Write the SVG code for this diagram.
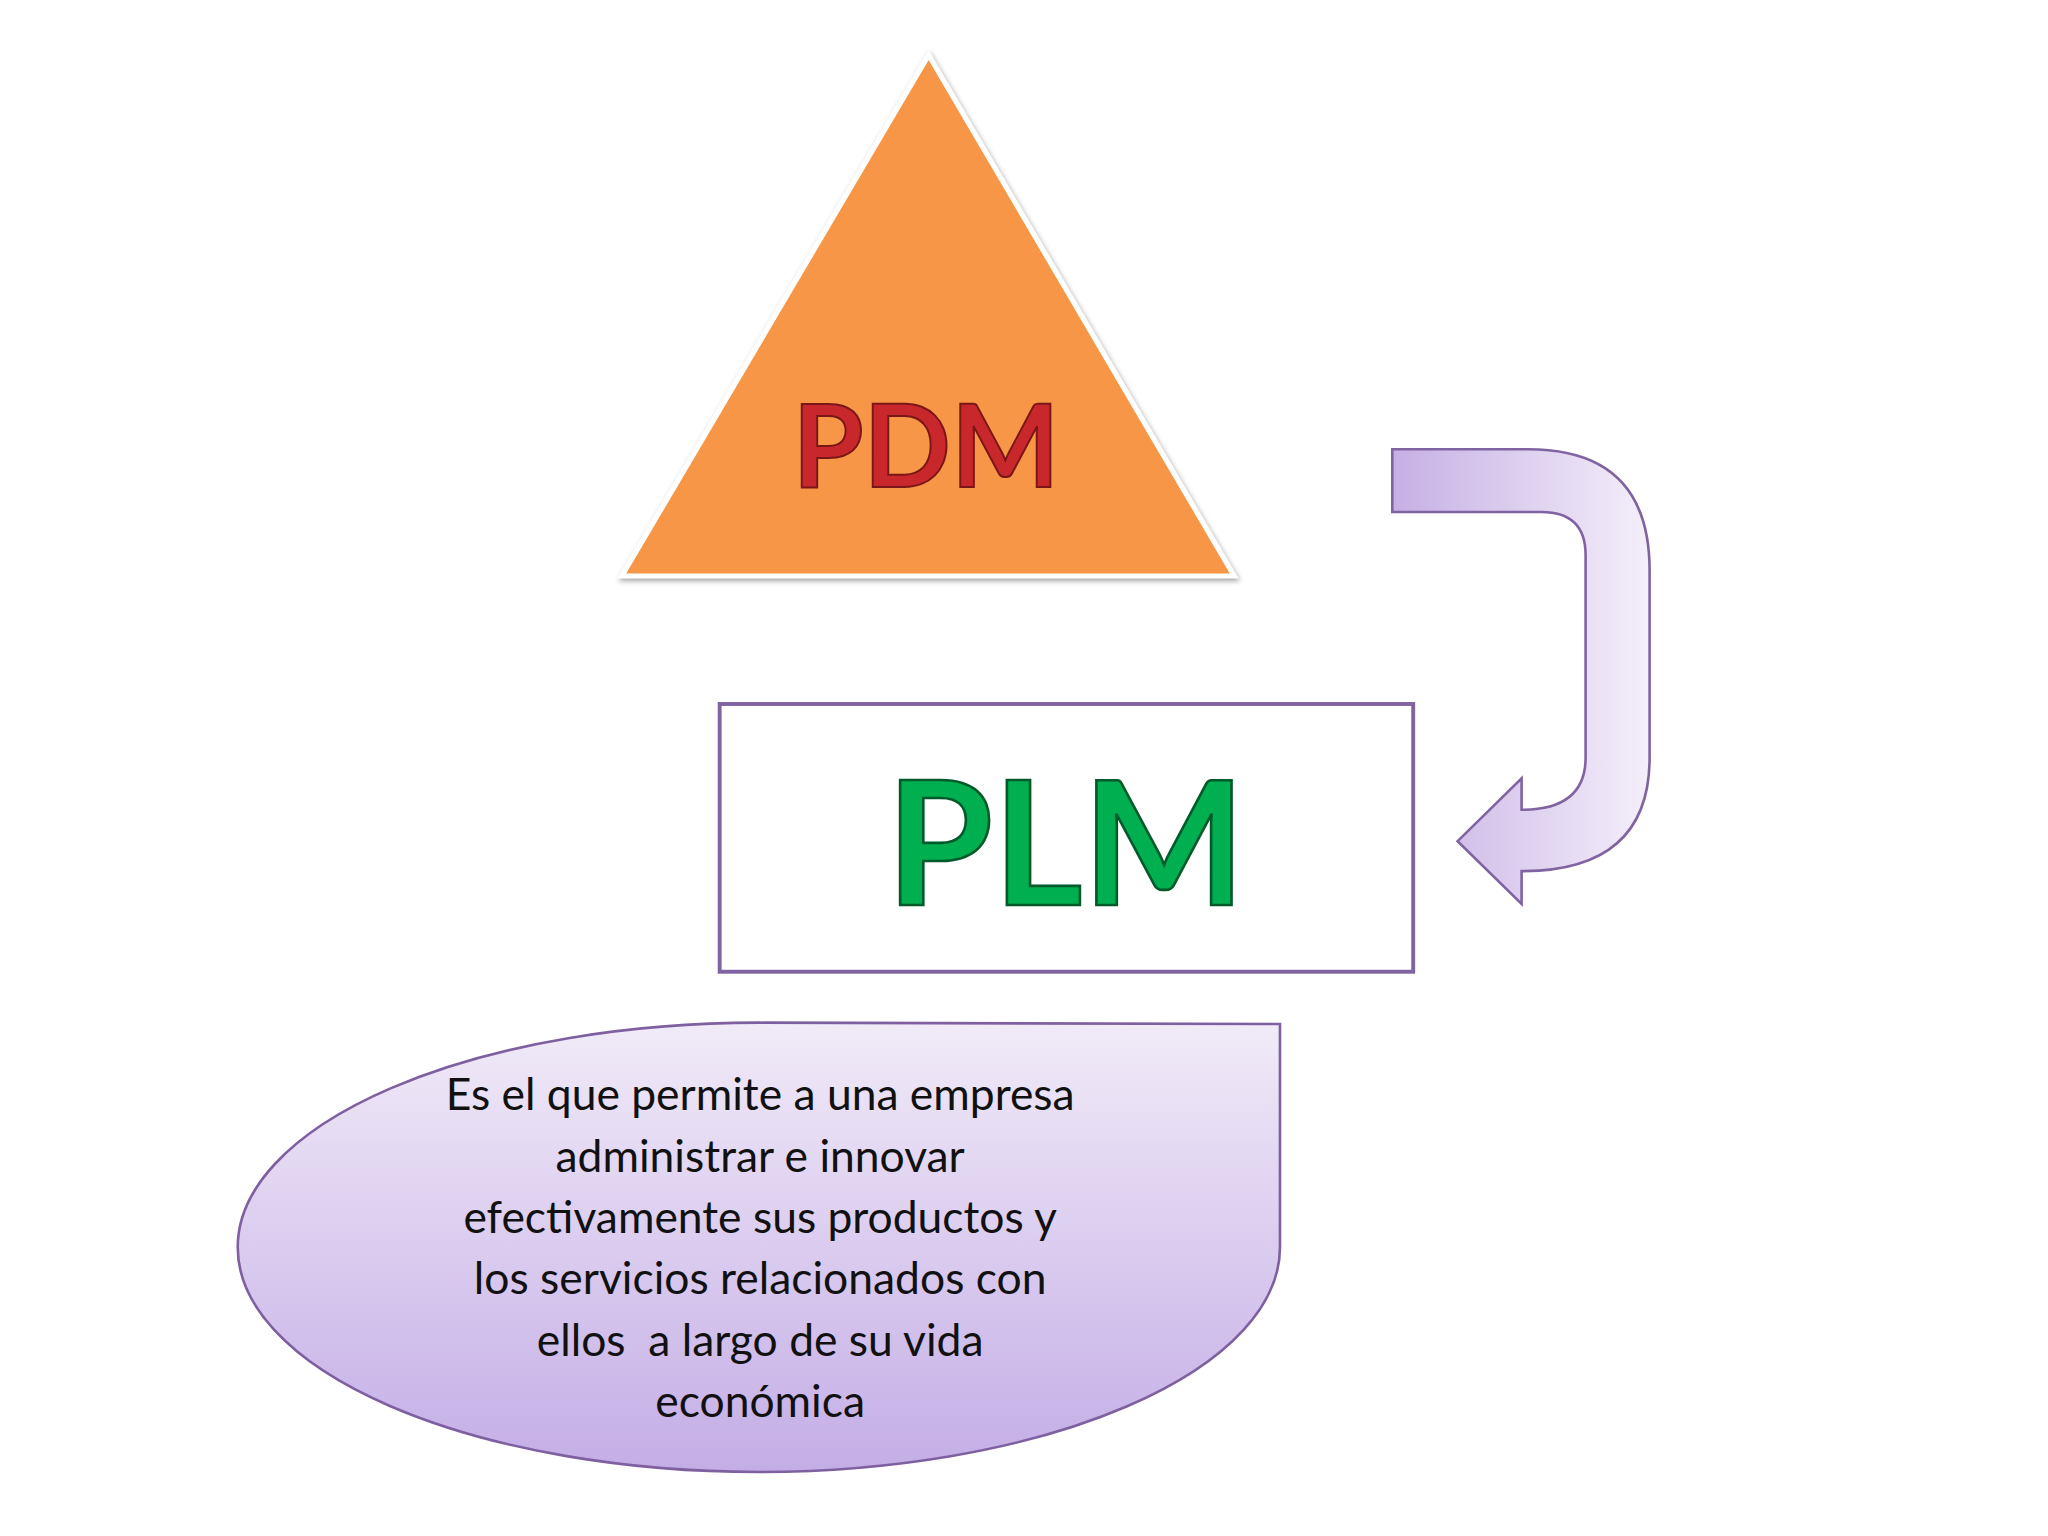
<svg xmlns="http://www.w3.org/2000/svg" width="2048" height="1536" viewBox="0 0 2048 1536">
<defs>
<linearGradient id="arr" x1="0" y1="0" x2="1" y2="0"><stop offset="0" stop-color="#c6afe4"/><stop offset="1" stop-color="#f4effa"/></linearGradient>
<linearGradient id="cal" x1="0" y1="0" x2="0" y2="1"><stop offset="0" stop-color="#f1ebf8"/><stop offset="1" stop-color="#c4ade6"/></linearGradient>
<style>
.big{font-family:Lato,"Liberation Sans",sans-serif;font-weight:bold;text-anchor:middle}
.body{font-family:Lato,"Open Sans",sans-serif;font-size:34px;fill:#111;text-anchor:middle}
</style>
</defs>
<rect width="2048" height="1536" fill="#fff"/>
<g transform="scale(1.3061)">
<g id="pdm">
<polygon points="711,42 476,441 945,441" fill="#f79646" stroke="#fff" stroke-width="4" style="filter:drop-shadow(1px 2px 2px rgba(0,0,0,0.35))"/>
<text x="709" y="373" class="big" font-size="88" fill="#c8272b" stroke="#7a1616" stroke-width="1.5">PDM</text>
</g>
<g id="plm">
<rect x="551" y="539" width="531" height="205" fill="#fff" stroke="#8064a2" stroke-width="3"/>
<text x="816" y="693" class="big" font-size="132" fill="#00b050" stroke="#005a2a" stroke-width="2">PLM</text>
</g>
<g id="desc">
<path d="M980,784 L980,955 A399 172 0 1 1 582,783 Z" fill="url(#cal)" stroke="#7e60a0" stroke-width="2"/>
<text class="body"><tspan x="582" y="850">Es el que permite a una empresa</tspan><tspan x="582" y="897">administrar e innovar</tspan><tspan x="582" y="944">efectivamente sus productos y</tspan><tspan x="582" y="991">los servicios relacionados con</tspan><tspan x="582" y="1038" xml:space="preserve">ellos  a largo de su vida</tspan><tspan x="582" y="1085">económica</tspan></text>
</g>
<g id="connectors">
<path d="M1066,344 L1170,344 Q1263,344 1263,437 L1263,580 Q1263,667 1165,667 L1165,692 L1116,644 L1165,596 L1165,620 Q1214,620 1214,580 L1214,425 Q1214,392 1180,392 L1066,392 Z" fill="url(#arr)" stroke="#8064a2" stroke-width="2"/>
</g>
</g>
</svg>
